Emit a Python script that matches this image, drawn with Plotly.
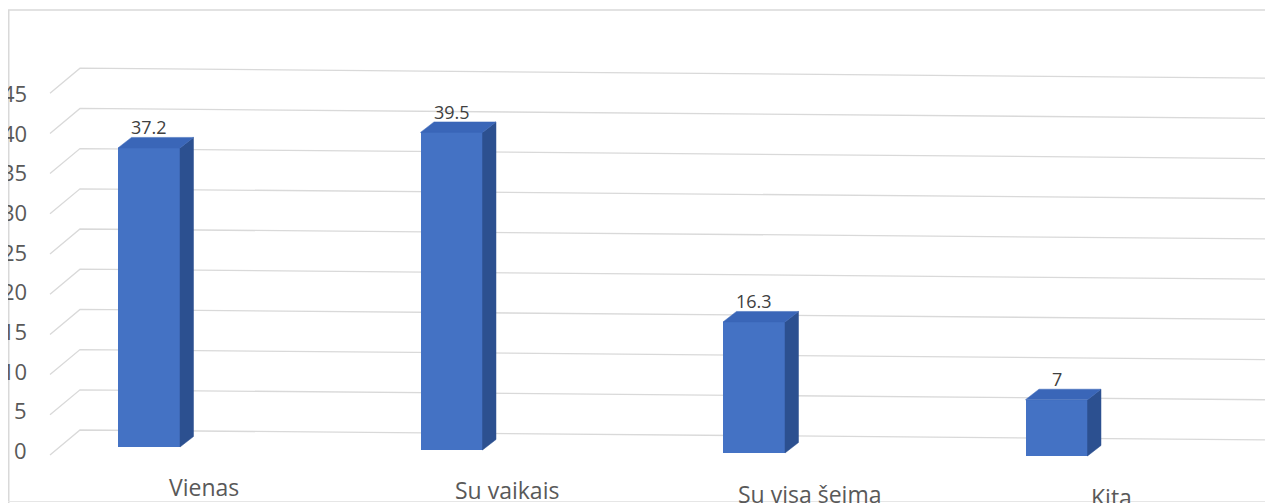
import plotly.graph_objects as go

# ---------------- data ----------------
categories = ["Vienas", "Su vaikais", "Su visa šeima", "Kita"]
values = [37.2, 39.5, 16.3, 7]
value_labels = ["37.2", "39.5", "16.3", "7"]
y_ticks = [0, 5, 10, 15, 20, 25, 30, 35, 40, 45]

# ---------------- styling / pseudo-3D projection constants ----------------
W, H = 1273, 503
OFF = 8                 # page body margin of the browser
FW, FH = W - OFF, H - OFF
PX_PER_CAT = 302.5      # horizontal distance between category centres (px)
X0_PX = 149.0           # centre of the first category (px, window coords)
PX_PER_UNIT = 8.04      # vertical px per value unit
Y0_PX = 447.0           # front base line of first bar (px, window coords)
TILT = 0.0099           # perspective drop of the floor, px per px to the right
BAR_W_PX = 62.0
DEPTH_DX, DEPTH_DY = 13.5, -10.5   # bar depth offset (px)

FRONT = "#4472C4"
TOP = "#3A66B8"
SIDE = "#2C5090"
GRID = "#D9D9D9"
TXT = "#595959"
FONT = "Open Sans"


def X(px):
    return (px - X0_PX) / PX_PER_CAT


def Y(py):
    return (Y0_PX - py) / PX_PER_UNIT


fig = go.Figure()
shapes = []

# ---- back-wall gridlines with floor diagonal (below the bars) ----
for v in y_ticks:
    def g(xp):
        return 430 + (xp - 80) * 10 / 1193 - PX_PER_UNIT * v
    pts = [(50, g(80) + 25), (80, g(80)), (W, g(W))]
    path = "M " + " L ".join(f"{X(xp):.5f},{Y(yp):.5f}" for xp, yp in pts)
    shapes.append(dict(type="path", path=path, xref="x", yref="y",
                       layer="below", line=dict(color=GRID, width=1.3)))

# ---- bars ----
idx = list(range(len(categories)))
bases = [-TILT * (i * PX_PER_CAT) / PX_PER_UNIT for i in idx]
bw = BAR_W_PX / PX_PER_CAT
ddx = DEPTH_DX / PX_PER_CAT
ddy = -DEPTH_DY / PX_PER_UNIT

fig.add_trace(go.Bar(x=idx, y=values, base=bases, width=bw,
                     marker=dict(color=FRONT, line=dict(width=0)),
                     hovertext=categories, showlegend=False))

# side and top faces (drawn from the same values)
for i, v, b in zip(idx, values, bases):
    xl, xr = i - bw / 2, i + bw / 2
    top = b + v
    fig.add_trace(go.Scatter(
        x=[xr, xr, xr + ddx, xr + ddx, xr],
        y=[b, top, top + ddy, b + ddy, b],
        fill="toself", fillcolor=SIDE, mode="lines",
        line=dict(color=SIDE, width=0.5), hoverinfo="skip", showlegend=False))
    fig.add_trace(go.Scatter(
        x=[xl, xr, xr + ddx, xl + ddx, xl],
        y=[top, top, top + ddy, top + ddy, top],
        fill="toself", fillcolor=TOP, mode="lines",
        line=dict(color=TOP, width=0.5), hoverinfo="skip", showlegend=False))

annotations = []
# value labels
for i, v, b, lab in zip(idx, values, bases, value_labels):
    annotations.append(dict(
        x=i, y=b + v + ddy + 10 / PX_PER_UNIT, text=lab, showarrow=False,
        xanchor="center", yanchor="middle",
        font=dict(family=FONT, size=18, color="#404040")))

# category labels (front floor edge)
for i, c in zip(idx, categories):
    cx = X0_PX + i * PX_PER_CAT + 55
    cy = 487 + 0.011 * (cx - 202)
    annotations.append(dict(
        x=X(cx), y=Y(cy), text=c, showarrow=False,
        xanchor="center", yanchor="middle",
        font=dict(family=FONT, size=23, color=TXT)))

# value-axis labels
for v in y_ticks:
    annotations.append(dict(
        x=X(29), y=Y(450 - 7.93 * v), text=str(v), showarrow=False,
        xanchor="right", yanchor="middle",
        font=dict(family=FONT, size=22, color=TXT)))

# chart frame
shapes += [
    dict(type="line", xref="paper", yref="paper",
         x0=(8 - OFF) / FW, x1=1, y0=1 - (10 - OFF) / FH, y1=1 - (10 - OFF) / FH,
         line=dict(color=GRID, width=1.5)),
    dict(type="line", xref="paper", yref="paper",
         x0=(8 - OFF) / FW + 0.0006, x1=(8 - OFF) / FW + 0.0006, y0=0,
         y1=1 - (10 - OFF) / FH, line=dict(color=GRID, width=1.5)),
    dict(type="line", xref="paper", yref="paper",
         x0=0, x1=1, y0=1.5 / FH, y1=1.5 / FH,
         line=dict(color="#E6E6E6", width=1)),
]

fig.update_layout(
    width=FW, height=FH,
    margin=dict(l=0, r=0, t=0, b=0),
    paper_bgcolor="white", plot_bgcolor="white",
    xaxis=dict(range=[X(OFF), X(W)], visible=False, fixedrange=True),
    yaxis=dict(range=[Y(H), Y(OFF)], visible=False, fixedrange=True),
    bargap=0,
    annotations=annotations,
    shapes=shapes,
)

fig.write_html("out.html")
